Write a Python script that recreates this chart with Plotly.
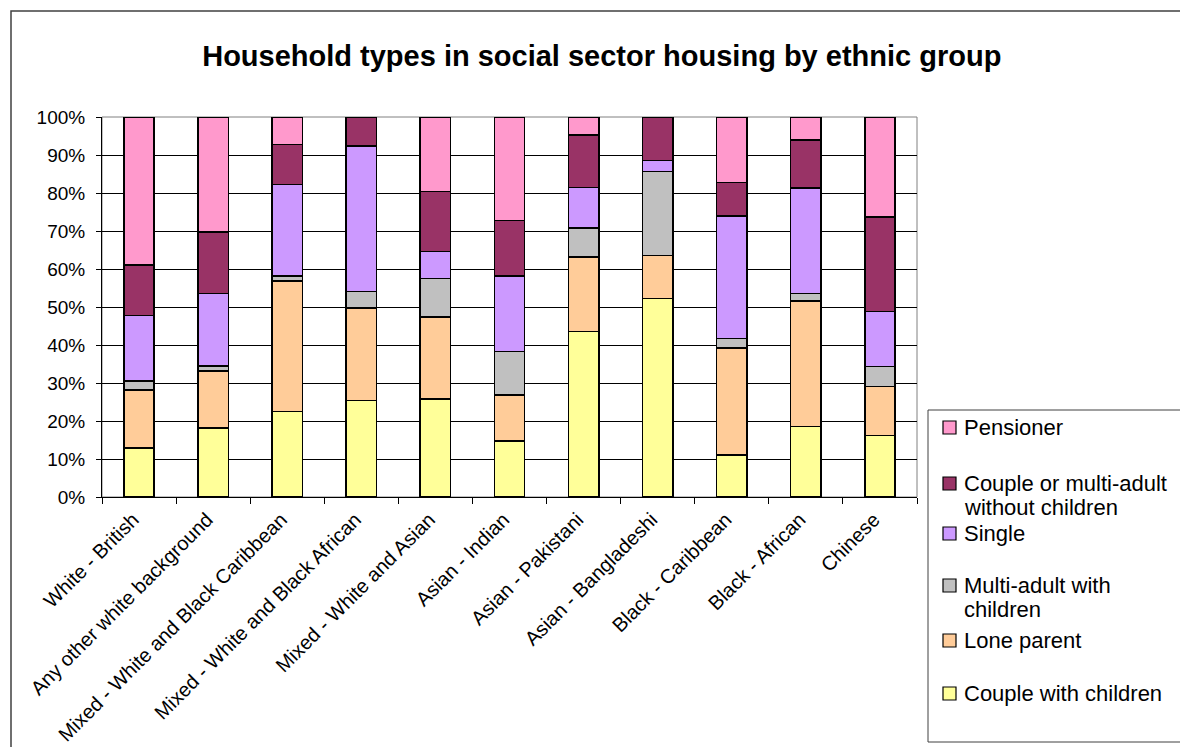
import plotly.graph_objects as go

# Ethnic groups along the x axis
groups = [
    "White - British",
    "Any other white background",
    "Mixed - White and Black Caribbean",
    "Mixed - White and Black African",
    "Mixed - White and Asian",
    "Asian - Indian",
    "Asian - Pakistani",
    "Asian - Bangladeshi",
    "Black - Caribbean",
    "Black - African",
    "Chinese",
]

# Share of households (%) by type, stacked bottom to top
couple_with_children = [12.9, 18.2, 22.5, 25.4, 25.8, 14.8, 43.5, 52.2, 11.0, 18.6, 16.2]
lone_parent = [15.2, 14.9, 34.4, 24.3, 21.6, 12.0, 19.6, 11.4, 28.2, 33.0, 12.9]
multi_adult_with_children = [2.4, 1.4, 1.3, 4.4, 10.1, 11.5, 7.7, 22.1, 2.5, 1.9, 5.3]
single = [17.2, 19.1, 24.1, 38.3, 7.1, 19.9, 10.6, 2.8, 32.3, 27.8, 14.4]
couple_no_children = [13.4, 16.2, 10.5, 7.6, 15.8, 14.5, 13.8, 11.5, 8.7, 12.6, 24.9]
pensioner = [38.9, 30.2, 7.2, 0.0, 19.6, 27.3, 4.8, 0.0, 17.3, 6.1, 26.3]

series_names = [
    "Couple with children",
    "Lone parent",
    "Multi-adult with children",
    "Single",
    "Couple or multi-adult without children",
    "Pensioner",
]
series_values = [
    couple_with_children,
    lone_parent,
    multi_adult_with_children,
    single,
    couple_no_children,
    pensioner,
]
series_colors = ["#FFFF99", "#FFCC99", "#C0C0C0", "#CC99FF", "#993366", "#FF99CC"]

# Legend text, wrapped as drawn in the key (top entry first)
legend_lines = [
    ["Pensioner"],
    ["Couple or multi-adult", "without children"],
    ["Single"],
    ["Multi-adult with", "children"],
    ["Lone parent"],
    ["Couple with children"],
]
legend_colors = list(reversed(series_colors))

FONT = "Liberation Sans, Arial, sans-serif"
W, H = 1180, 747
L, R, T, B = 102, 917, 117, 497  # plot area in pixels


def px_x(x):
    return (x - L) / (R - L)


def px_y(y):
    return (B - y) / (B - T)


fig = go.Figure()
for name, vals, col in zip(series_names, series_values, series_colors):
    fig.add_trace(go.Bar(
        x=groups, y=vals, name=name,
        marker=dict(color=col, line=dict(color="black", width=1.5)),
        showlegend=False,
    ))

shapes = []
# outer chart border
shapes.append(dict(type="rect", xref="paper", yref="paper",
                   x0=px_x(11), y0=px_y(11), x1=px_x(1200), y1=px_y(770),
                   line=dict(color="#404040", width=1.5), layer="below"))
# plot area frame (top / right)
shapes.append(dict(type="rect", xref="paper", yref="paper",
                   x0=0, y0=0, x1=1, y1=1,
                   line=dict(color="#808080", width=1), layer="below"))
# legend box
shapes.append(dict(type="rect", xref="paper", yref="paper",
                   x0=px_x(928), y0=px_y(410), x1=px_x(1200), y1=px_y(742),
                   line=dict(color="#404040", width=1), fillcolor="white"))

annotations = []
entry_tops = [427, 483, 533, 585, 640, 693]
line_step = 24.5
for lines, col, yc in zip(legend_lines, legend_colors, entry_tops):
    shapes.append(dict(type="rect", xref="paper", yref="paper",
                       x0=px_x(943), x1=px_x(956), y0=px_y(yc - 6), y1=px_y(yc + 7),
                       fillcolor=col, line=dict(color="black", width=1.2)))
    for i, txt in enumerate(lines):
        annotations.append(dict(
            xref="paper", yref="paper", x=px_x(962), y=px_y(yc + i * line_step),
            xanchor="left", yanchor="middle", text=txt, showarrow=False,
            font=dict(family=FONT, size=22, color="black"),
        ))

fig.update_layout(
    width=W, height=H,
    margin=dict(l=L, r=W - R, t=T, b=H - B, pad=0, autoexpand=False),
    barmode="stack",
    bargap=0.59,
    paper_bgcolor="white",
    plot_bgcolor="white",
    title=dict(
        text="<b>Household types in social sector housing by ethnic group</b>",
        x=0.51, xanchor="center", y=1 - 56 / H, yanchor="middle",
        font=dict(family=FONT, size=29, color="black"),
    ),
    font=dict(family=FONT, color="black"),
    xaxis=dict(
        tickangle=-45, tickfont=dict(family=FONT, size=20),
        showline=True, linecolor="black", linewidth=1,
        ticks="outside", ticklen=6, tickcolor="black",
        tickson="boundaries", showgrid=False, automargin=False,
        ticklabelstandoff=2, ticklabelshift=-6,
    ),
    yaxis=dict(
        range=[0, 100], dtick=10, ticksuffix="%",
        tickfont=dict(family=FONT, size=19),
        showline=True, linecolor="black", linewidth=1,
        ticks="outside", ticklen=5, tickcolor="black",
        showgrid=True, gridcolor="black", gridwidth=1,
        zeroline=False, ticklabelstandoff=7, automargin=False,
    ),
    shapes=shapes,
    annotations=annotations,
)

fig.write_html("out.html")
